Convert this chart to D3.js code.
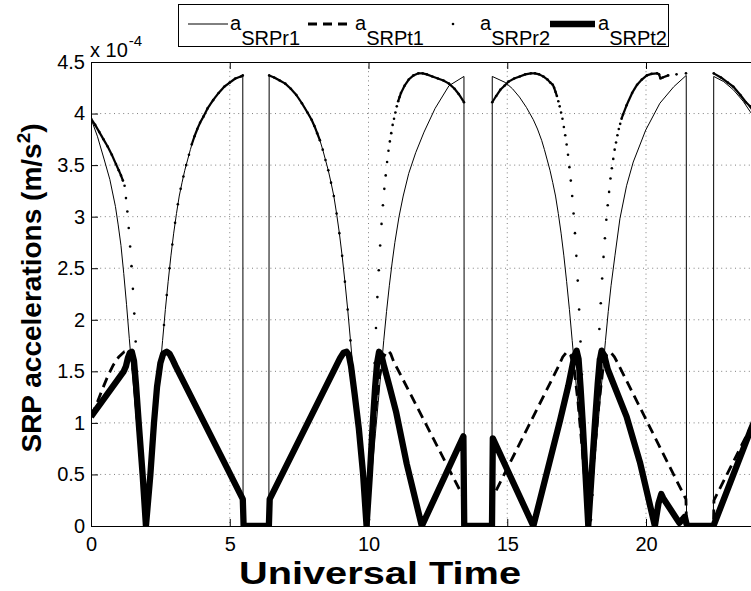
<!DOCTYPE html>
<html>
<head>
<meta charset="utf-8">
<script src="https://cdn.jsdelivr.net/npm/d3@7"></script>
<style>
body{margin:0;background:#fff;}
svg text{font-family:"Liberation Sans",Arial,sans-serif;fill:#000;}
</style>
</head>
<body>
<svg id="chart"></svg>
<script>
// tick values / labels
var xTicks = [0, 5, 10, 15, 20];
var xTickLabels = ['0', '5', '10', '15', '20'];
var yTicks = [0, 0.5, 1, 1.5, 2, 2.5, 3, 3.5, 4, 4.5];
var yTickLabels = ['0', '0.5', '1', '1.5', '2', '2.5', '3', '3.5', '4', '4.5'];

// [UT hour, acceleration x 1e-4 m/s^2]
var aSRPr1 = [
  [0,3.95],[0.23,3.78],[0.48,3.55],[0.68,3.36],[0.88,3.1],[0.98,2.92],[1.08,2.72],[1.18,2.45],[1.28,2.15],[1.38,1.82],[1.48,1.5],[1.58,1.2],[1.68,0.9],[1.78,0.6],[1.88,0.3],[1.98,0],
  [2.08,0.3],[2.18,0.6],[2.28,0.9],[2.38,1.2],[2.48,1.5],[2.58,1.8],[2.68,2.1],[2.78,2.37],[2.88,2.62],[2.98,2.84],[3.08,3.03],[3.18,3.2],[3.28,3.33],[3.38,3.45],[3.48,3.55],[3.58,3.65],[3.68,3.74],[3.83,3.85],[3.98,3.94],[4.23,4.06],[4.48,4.16],[4.73,4.24],[4.98,4.3],[5.23,4.34],[5.47,4.37],[5.48,0],
  [6.41,0],[6.42,4.37],[6.7,4.34],[6.95,4.3],[7.2,4.24],[7.45,4.16],[7.7,4.06],[7.95,3.94],[8.1,3.85],[8.25,3.74],[8.35,3.65],[8.45,3.55],[8.55,3.45],[8.65,3.33],[8.75,3.2],[8.85,3.03],[8.95,2.84],[9.05,2.62],[9.15,2.37],[9.25,2.1],[9.35,1.8],[9.45,1.5],[9.55,1.2],[9.65,0.9],[9.75,0.6],[9.85,0.3],[9.95,0],
  [10.05,0.3],[10.15,0.6],[10.25,0.9],[10.35,1.2],[10.45,1.5],[10.55,1.8],[10.65,2.08],[10.75,2.33],[10.85,2.55],[10.95,2.75],[11.1,3.0],[11.25,3.2],[11.45,3.42],[11.7,3.62],[12.0,3.82],[12.4,4.05],[12.9,4.27],[13.44,4.36],[13.45,0],
  [14.45,0],[14.46,4.36],[14.94,4.3],[15.19,4.24],[15.44,4.16],[15.69,4.06],[15.94,3.94],[16.09,3.85],[16.24,3.74],[16.34,3.65],[16.44,3.55],[16.54,3.45],[16.64,3.33],[16.74,3.2],[16.84,3.03],[16.94,2.84],[17.04,2.62],[17.14,2.37],[17.24,2.1],[17.34,1.8],[17.44,1.5],[17.54,1.2],[17.64,0.9],[17.74,0.6],[17.84,0.3],[17.94,0],
  [18.04,0.3],[18.14,0.6],[18.24,0.9],[18.34,1.2],[18.44,1.5],[18.54,1.8],[18.64,2.08],[18.74,2.33],[18.88,2.62],[19.06,2.98],[19.3,3.3],[19.54,3.53],[19.99,3.84],[20.5,4.1],[21.0,4.26],[21.45,4.37],[21.46,0],
  [22.43,0],[22.44,4.36],[22.8,4.31],[23.15,4.23],[23.5,4.12],[23.75,4.02],[24,3.93]
];

var aSRPt1 = [
  [0,1.06],[0.2,1.18],[0.4,1.32],[0.6,1.45],[0.8,1.56],[1.0,1.64],[1.2,1.69],[1.35,1.7],[1.45,1.65],[1.55,1.45],[1.65,1.1],[1.8,0.6],[1.98,0],
  [2.14,0.5],[2.27,1.0],[2.38,1.35],[2.5,1.58],[2.6,1.67],[2.73,1.69],[2.83,1.67],[2.93,1.62],[3.05,1.55],[5.47,0.26],[5.5,0],
  [6.41,0],[6.44,0.26],[8.85,1.56],[8.98,1.63],[9.1,1.68],[9.21,1.69],[9.29,1.66],[9.37,1.55],[9.5,1.28],[9.65,0.95],[9.8,0.52],[9.93,0],
  [10.1,0.6],[10.25,1.1],[10.4,1.45],[10.52,1.62],[10.62,1.68],[10.71,1.7],[10.8,1.67],[10.9,1.6],[13.44,0.27],[13.46,0],
  [14.44,0],[14.46,0.27],[16.85,1.55],[17.0,1.64],[17.15,1.69],[17.28,1.66],[17.4,1.55],[17.55,1.2],[17.7,0.75],[17.93,0],
  [18.16,0.75],[18.31,1.2],[18.46,1.55],[18.58,1.66],[18.71,1.69],[18.86,1.64],[19.0,1.57],[21.44,0.26],[21.46,0],
  [22.43,0],[22.45,0.25],[24,1.08]
];

var aSRPr2 = [
  [0,3.95],[0.15,3.89],[0.3,3.82],[0.45,3.75],[0.6,3.68],[0.75,3.6],[0.9,3.51],[1.0,3.45],[1.08,3.4],[1.15,3.35],[1.21,3.3],
  [1.26,3.18],[1.31,3.05],[1.36,2.89],[1.41,2.71],[1.46,2.52],[1.51,2.3],[1.56,2.06],[1.61,1.79],[1.66,1.5],[1.71,1.2],[1.76,0.9],[1.81,0.61],[1.86,0.35],[1.91,0.13],[1.96,0.02],
  [2.03,0.15],[2.13,0.45],[2.23,0.75],[2.33,1.05],[2.43,1.35],[2.53,1.65],[2.63,1.95],[2.73,2.24],[2.83,2.5],[2.93,2.73],[3.03,2.94],[3.13,3.12],[3.23,3.27],[3.33,3.39],[3.43,3.5],[3.53,3.6],[3.63,3.7],[3.73,3.78],[3.83,3.85],[3.93,3.91],[4.05,3.97],[4.2,4.05],[4.4,4.13],[4.6,4.2],[4.8,4.26],[5.0,4.3],[5.2,4.34],[5.4,4.36],[5.47,4.37],
  [6.42,4.37],[6.6,4.35],[6.8,4.32],[7.0,4.29],[7.2,4.24],[7.4,4.18],[7.6,4.1],[7.8,4.01],[7.95,3.94],[8.05,3.88],[8.15,3.81],[8.25,3.74],[8.35,3.65],[8.45,3.55],[8.55,3.45],[8.65,3.33],[8.75,3.2],[8.85,3.03],[8.95,2.84],[9.05,2.62],[9.15,2.37],[9.25,2.1],[9.35,1.8],[9.45,1.5],[9.55,1.2],[9.65,0.9],[9.75,0.6],[9.85,0.3],[9.95,0.02],
  [10.02,0.06],[10.07,0.44],[10.12,0.84],[10.17,1.22],[10.22,1.58],[10.27,1.92],[10.32,2.22],[10.37,2.48],[10.42,2.72],[10.47,2.93],[10.52,3.11],[10.57,3.27],[10.62,3.4],[10.67,3.53],[10.72,3.64],[10.77,3.73],[10.82,3.81],[10.87,3.89],[10.92,3.95],[10.97,4.01],[11.02,4.07],[11.07,4.12],[11.12,4.16],[11.17,4.2],
  [11.3,4.27],[11.45,4.33],[11.62,4.37],[11.8,4.39],[11.95,4.39],[12.1,4.38],[12.3,4.36],[12.5,4.34],[12.7,4.32],[12.9,4.29],[13.1,4.24],[13.25,4.19],[13.44,4.11],
  [14.46,4.11],[14.6,4.17],[14.75,4.23],[14.9,4.27],[15.05,4.31],[15.25,4.34],[15.45,4.36],[15.65,4.38],[15.85,4.39],[16.0,4.39],[16.15,4.38],[16.3,4.36],[16.45,4.33],[16.55,4.3],[16.64,4.28],
  [16.69,4.25],[16.74,4.21],[16.79,4.17],[16.84,4.12],[16.89,4.07],[16.94,4.01],[16.99,3.95],[17.04,3.87],[17.09,3.79],[17.14,3.7],[17.19,3.6],[17.24,3.48],[17.29,3.35],[17.34,3.2],[17.39,3.03],[17.44,2.84],[17.49,2.62],[17.54,2.38],[17.59,2.1],[17.64,1.79],[17.69,1.47],[17.74,1.13],[17.79,0.8],[17.84,0.48],[17.89,0.2],[17.94,0.02],
  [18.02,0.06],[18.07,0.3],[18.12,0.62],[18.17,0.97],[18.22,1.3],[18.27,1.62],[18.32,1.91],[18.37,2.16],[18.42,2.4],[18.47,2.61],[18.52,2.79],[18.57,2.97],[18.62,3.11],[18.67,3.24],[18.72,3.37],[18.77,3.47],[18.82,3.56],[18.87,3.65],[18.92,3.72],[18.97,3.79],[19.02,3.85],[19.07,3.9],[19.12,3.95],[19.17,3.99],
  [19.3,4.08],[19.5,4.2],[19.68,4.28],[19.85,4.33],[20.03,4.37],[20.2,4.385],[20.4,4.39],[20.47,4.38],[20.52,4.34],[20.6,4.35],[20.8,4.37],[21.1,4.38],[21.44,4.39],
  [22.44,4.39],[22.7,4.35],[22.95,4.3],[23.15,4.26],[23.4,4.18],[23.6,4.11],[23.75,4.07],[24,3.97]
];

var aSRPt2 = [
  [0,1.06],[1.18,1.5],[1.26,1.55],[1.33,1.63],[1.4,1.68],[1.47,1.69],[1.55,1.6],[1.62,1.38],[1.72,1.0],[1.86,0.5],[1.98,0],
  [2.14,0.5],[2.27,1.0],[2.38,1.35],[2.5,1.58],[2.6,1.67],[2.73,1.69],[2.83,1.67],[2.93,1.62],[3.05,1.55],[5.47,0.26],[5.5,0],
  [6.41,0],[6.44,0.26],[8.85,1.56],[8.98,1.63],[9.1,1.68],[9.21,1.69],[9.29,1.66],[9.37,1.55],[9.5,1.28],[9.65,0.95],[9.8,0.52],[9.93,0],
  [10.05,0.5],[10.15,0.98],[10.24,1.35],[10.31,1.58],[10.38,1.69],[10.46,1.66],[10.56,1.55],[10.75,1.36],[11.0,1.1],[11.38,0.6],[11.92,0],
  [13.42,0.87],[13.45,0],[14.45,0],[14.48,0.85],[15.94,0],
  [16.9,1.02],[17.2,1.36],[17.32,1.52],[17.42,1.65],[17.5,1.7],[17.57,1.62],[17.64,1.35],[17.72,1.0],[17.82,0.5],[17.92,0],
  [18.04,0.5],[18.16,1.0],[18.26,1.38],[18.33,1.6],[18.4,1.7],[18.5,1.65],[18.62,1.52],[19.3,1.06],[19.78,0.62],[20.32,0],
  [20.45,0.22],[20.55,0.31],[20.62,0.27],[21.2,0.03],[21.3,0.06],[21.4,0.09],[21.46,0.02],[21.5,0],[22.43,0],[23.77,0.93],[24,1.08]
];

var legendNames = ['SRPr1', 'SRPt1', 'SRPr2', 'SRPt2'];

var svgWidth = 751;
var svgHeight = 591;
var plotLeft = 91, plotRight = 757, plotTop = 62, plotBottom = 526;
var thickWidth = 6.3;

var svg = d3.select('#chart').attr('width', svgWidth).attr('height', svgHeight);

var xScale = d3.scaleLinear().domain([0, 24]).range([plotLeft, plotRight]);
var yScale = d3.scaleLinear().domain([0, 4.5]).range([plotBottom, plotTop]);

svg.append('defs').append('clipPath').attr('id', 'plotClip')
  .append('rect')
  .attr('x', plotLeft).attr('y', plotTop)
  .attr('width', plotRight - plotLeft).attr('height', plotBottom - plotTop);

// dotted grid
var grid = svg.append('g').attr('class', 'grid');
grid.selectAll('.gx').data(xTicks.slice(1)).enter().append('line')
  .attr('x1', function(d){ return xScale(d); })
  .attr('x2', function(d){ return xScale(d); })
  .attr('y1', plotTop).attr('y2', plotBottom);
grid.selectAll('.gy').data(yTicks.slice(1, -1)).enter().append('line')
  .attr('x1', plotLeft).attr('x2', plotRight)
  .attr('y1', function(d){ return yScale(d); })
  .attr('y2', function(d){ return yScale(d); });
grid.selectAll('line')
  .attr('stroke', '#000').attr('stroke-opacity', 0.5)
  .attr('stroke-width', 1).attr('stroke-dasharray', '1,3.6');

var line = d3.line()
  .x(function(d){ return xScale(d[0]); })
  .y(function(d){ return yScale(d[1]); });

var plot = svg.append('g').attr('clip-path', 'url(#plotClip)');

plot.append('path').datum(aSRPr1)
  .attr('d', line).attr('fill', 'none')
  .attr('stroke', '#000').attr('stroke-width', 1);

plot.append('path').datum(aSRPt1)
  .attr('d', line).attr('fill', 'none')
  .attr('stroke', '#000').attr('stroke-width', 2.8)
  .attr('stroke-dasharray', '10,6');

// r2 is a marker-only series: markers merge into a line where the curve is flat
var r2Links = [];
for(var i = 1; i < aSRPr2.length; i++){
  var a = aSRPr2[i - 1], b = aSRPr2[i];
  var dx = xScale(b[0]) - xScale(a[0]);
  var dy = yScale(b[1]) - yScale(a[1]);
  if(dx < 7.5 && Math.abs(dy) < 3 * dx){
    r2Links.push([a, b]);
  }
}
plot.selectAll('.r2link').data(r2Links).enter().append('path')
  .attr('d', line).attr('fill', 'none')
  .attr('stroke', '#000').attr('stroke-width', 2.2);
plot.selectAll('.r2dot').data(aSRPr2).enter().append('circle')
  .attr('cx', function(d){ return xScale(d[0]); })
  .attr('cy', function(d){ return yScale(d[1]); })
  .attr('r', 1.3).attr('fill', '#000');

plot.append('path').datum(aSRPt2)
  .attr('d', line).attr('fill', 'none')
  .attr('stroke', '#000').attr('stroke-width', thickWidth)
  .attr('stroke-linejoin', 'round');

// axes, MATLAB style ticks pointing inwards
var xAxis = d3.axisBottom(xScale).tickValues(xTicks)
  .tickFormat(function(d, i){ return xTickLabels[i]; })
  .tickSizeInner(-7).tickSizeOuter(0).tickPadding(11);
var xAxisTop = d3.axisTop(xScale).tickValues(xTicks)
  .tickFormat('').tickSizeInner(-7).tickSizeOuter(0);
var yAxis = d3.axisLeft(yScale).tickValues(yTicks)
  .tickFormat(function(d, i){ return yTickLabels[i]; })
  .tickSizeInner(-7).tickSizeOuter(0).tickPadding(6);

svg.append('g').attr('class', 'axis')
  .attr('transform', 'translate(0,' + plotBottom + ')').call(xAxis);
svg.append('g').attr('class', 'axis')
  .attr('transform', 'translate(0,' + plotTop + ')').call(xAxisTop);
svg.append('g').attr('class', 'axis')
  .attr('transform', 'translate(' + plotLeft + ',0)').call(yAxis);

svg.selectAll('.axis path, .axis line').attr('stroke', '#000').attr('stroke-width', 1);
svg.selectAll('.axis text').attr('font-size', 20).attr('fill', '#000')
  .style('font-family', '"Liberation Sans", Arial, sans-serif');

// exponent label
var expo = svg.append('text').attr('x', plotLeft - 1).attr('y', 57).attr('font-size', 20);
expo.append('tspan').text('x 10');
expo.append('tspan').attr('dx', 1).attr('dy', -11).attr('font-size', 15).text('-4');

// axis titles
var yTitle = svg.append('text')
  .attr('transform', 'translate(41,288) rotate(-90)')
  .attr('text-anchor', 'middle').attr('font-size', 28).attr('font-weight', 'bold');
yTitle.append('tspan').text('SRP accelerations (m/s');
yTitle.append('tspan').attr('dy', -11).attr('font-size', 19).text('2');
yTitle.append('tspan').attr('dy', 11).text(')');

svg.append('text')
  .attr('x', 380).attr('y', 584)
  .attr('text-anchor', 'middle').attr('font-size', 32).attr('font-weight', 'bold')
  .attr('textLength', 282).attr('lengthAdjust', 'spacingAndGlyphs')
  .text('Universal Time');

// legend
var legend = svg.append('g');
legend.append('rect')
  .attr('x', 178.5).attr('y', 4.5).attr('width', 490).attr('height', 42)
  .attr('fill', '#fff').attr('stroke', '#000').attr('stroke-width', 1);

var legendX = [188, 308, 433, 550];
var legendY = 24;
legend.append('line').attr('x1', legendX[0]).attr('x2', legendX[0] + 40)
  .attr('y1', legendY).attr('y2', legendY).attr('stroke', '#000').attr('stroke-width', 1);
legend.append('line').attr('x1', legendX[1]).attr('x2', legendX[1] + 45)
  .attr('y1', legendY).attr('y2', legendY).attr('stroke', '#000').attr('stroke-width', 2.8)
  .attr('stroke-dasharray', '9,6');
legend.append('circle').attr('cx', legendX[2] + 20).attr('cy', legendY).attr('r', 1.3).attr('fill', '#000');
legend.append('line').attr('x1', legendX[3]).attr('x2', legendX[3] + 45)
  .attr('y1', legendY).attr('y2', legendY).attr('stroke', '#000').attr('stroke-width', thickWidth);

var legendTextX = [230, 355, 480, 598];
legendNames.forEach(function(name, i){
  var t = legend.append('text').attr('x', legendTextX[i]).attr('y', 30).attr('font-size', 20);
  t.append('tspan').text('a');
  t.append('tspan').attr('dy', 15).attr('font-size', 20).text(name);
});
</script>
</body>
</html>
